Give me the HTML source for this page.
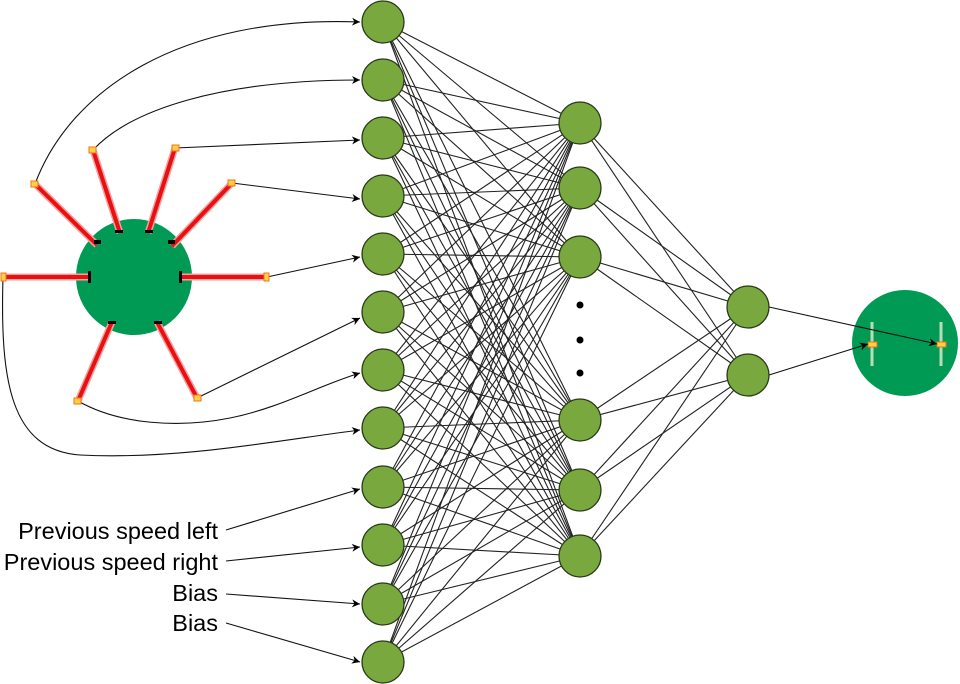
<!DOCTYPE html>
<html><head><meta charset="utf-8"><style>
html,body{margin:0;padding:0;background:#fff}
svg{display:block}
text{font-family:"Liberation Sans",sans-serif;font-size:23.5px;fill:#000}
</style></head><body>
<svg id="s" width="960" height="684" viewBox="0 0 960 684" xmlns="http://www.w3.org/2000/svg">
<defs>
<marker id="a" viewBox="0 0 10 10" refX="10" refY="5" markerWidth="11" markerHeight="8" orient="auto" markerUnits="userSpaceOnUse"><path d="M0,0 L10,5 L0,10 L3,5 z" fill="#000"/></marker>
</defs>
<g id="lines" stroke="#222" stroke-width="1.1" fill="none"></g>
<g id="conn" stroke="#111" stroke-width="1.1" fill="none">
<path d="M35,184 C70,90 180,15 360,22" marker-end="url(#a)"/>
<path d="M93,150 C130,110 220,80 360,80" marker-end="url(#a)"/>
<path d="M175,148 L360,140" marker-end="url(#a)"/>
<path d="M232,183 L360,199" marker-end="url(#a)"/>
<path d="M267,277 L360,257" marker-end="url(#a)"/>
<path d="M197,398 L360,318" marker-end="url(#a)"/>
<path d="M78,401 C120,425 180,428 230,418 C280,408 320,385 360,373" marker-end="url(#a)"/>
<path d="M3,277 C0,380 10,450 80,455 C180,460 280,440 360,430" marker-end="url(#a)"/>
<path d="M226,530 L360,489" marker-end="url(#a)"/>
<path d="M226,561 L360,547" marker-end="url(#a)"/>
<path d="M226,594 L360,604" marker-end="url(#a)"/>
<path d="M226,623 L360,662" marker-end="url(#a)"/>
</g>
<circle cx="134" cy="277" r="58" fill="#009a55"/>
<g stroke-linecap="butt">
<g stroke="#f4a0a0" stroke-width="7">
<line x1="3" y1="277" x2="90" y2="277"/><line x1="180" y1="277" x2="267" y2="277"/>
<line x1="35" y1="184" x2="97" y2="245"/><line x1="93" y1="150" x2="120" y2="233"/>
<line x1="175" y1="148" x2="148" y2="233"/><line x1="232" y1="183" x2="172" y2="246"/>
<line x1="78" y1="401" x2="112" y2="322"/><line x1="197" y1="398" x2="157" y2="322"/>
</g>
<g stroke="#e81010" stroke-width="4">
<line x1="3" y1="277" x2="90" y2="277"/><line x1="180" y1="277" x2="267" y2="277"/>
<line x1="35" y1="184" x2="97" y2="245"/><line x1="93" y1="150" x2="120" y2="233"/>
<line x1="175" y1="148" x2="148" y2="233"/><line x1="232" y1="183" x2="172" y2="246"/>
<line x1="78" y1="401" x2="112" y2="322"/><line x1="197" y1="398" x2="157" y2="322"/>
</g>
<g fill="#ffd040" stroke="#f07020" stroke-width="1">
<rect x="1" y="273" width="5" height="8"/><rect x="264" y="273" width="5" height="8"/>
<rect x="31" y="181" width="7" height="6"/><rect x="89" y="147" width="7" height="6"/>
<rect x="172" y="145" width="7" height="6"/><rect x="228" y="180" width="7" height="6"/>
<rect x="74" y="398" width="7" height="6"/><rect x="194" y="395" width="7" height="6"/>
</g>
<g fill="#000">
<rect x="88" y="271" width="3" height="12"/><rect x="179" y="271" width="3" height="12"/>
<rect x="94" y="240" width="7" height="4"/><rect x="115" y="230" width="8" height="3"/>
<rect x="145" y="230" width="8" height="3"/><rect x="168" y="240" width="7" height="4"/>
<rect x="108" y="321" width="8" height="3"/><rect x="154" y="321" width="8" height="3"/>
</g>
</g>
<circle cx="905" cy="343" r="53" fill="#009a55"/>
<line x1="872" y1="322" x2="872" y2="366" stroke="#b8dcb8" stroke-width="3"/>
<line x1="941" y1="322" x2="941" y2="366" stroke="#b8dcb8" stroke-width="3"/>
<rect x="868" y="342" width="9" height="5" fill="#ffd040" stroke="#f07020" stroke-width="1"/>
<rect x="937" y="342" width="9" height="5" fill="#ffd040" stroke="#f07020" stroke-width="1"/>
<g stroke="#111" stroke-width="1.1">
<line x1="769" y1="307" x2="937" y2="344" marker-end="url(#a)"/>
<line x1="769" y1="375" x2="868" y2="344" marker-end="url(#a)"/>
</g>
<g id="nodes" fill="#78a83e" stroke="#2a3a1a" stroke-width="1.3"></g>
<g fill="#000"><circle cx="580" cy="305" r="3.5"/><circle cx="580" cy="340" r="3.5"/><circle cx="580" cy="373" r="3.5"/></g>
<g text-anchor="end">
<text x="218" y="539">Previous speed left</text>
<text x="218" y="570">Previous speed right</text>
<text x="218" y="601">Bias</text>
<text x="218" y="631">Bias</text>
</g>
</svg>
<script>
var NS="http://www.w3.org/2000/svg";
var L=document.getElementById("lines"),N=document.getElementById("nodes");
var inY=[22,80,138,196,254,312,370,428,487,545,604,662];
var h1=[123,188,257,420,490,556];
var h2=[307,375];
function ln(x1,y1,x2,y2){var e=document.createElementNS(NS,"line");e.setAttribute("x1",x1);e.setAttribute("y1",y1);e.setAttribute("x2",x2);e.setAttribute("y2",y2);L.appendChild(e);}
function cir(x,y){var e=document.createElementNS(NS,"circle");e.setAttribute("cx",x);e.setAttribute("cy",y);e.setAttribute("r",21);N.appendChild(e);}
inY.forEach(function(a){h1.forEach(function(b){ln(383,a,580,b);});});
h1.forEach(function(a){h2.forEach(function(b){ln(580,a,748,b);});});
inY.forEach(function(y){cir(383,y);});
h1.forEach(function(y){cir(580,y);});
h2.forEach(function(y){cir(748,y);});
</script>
</body></html>
